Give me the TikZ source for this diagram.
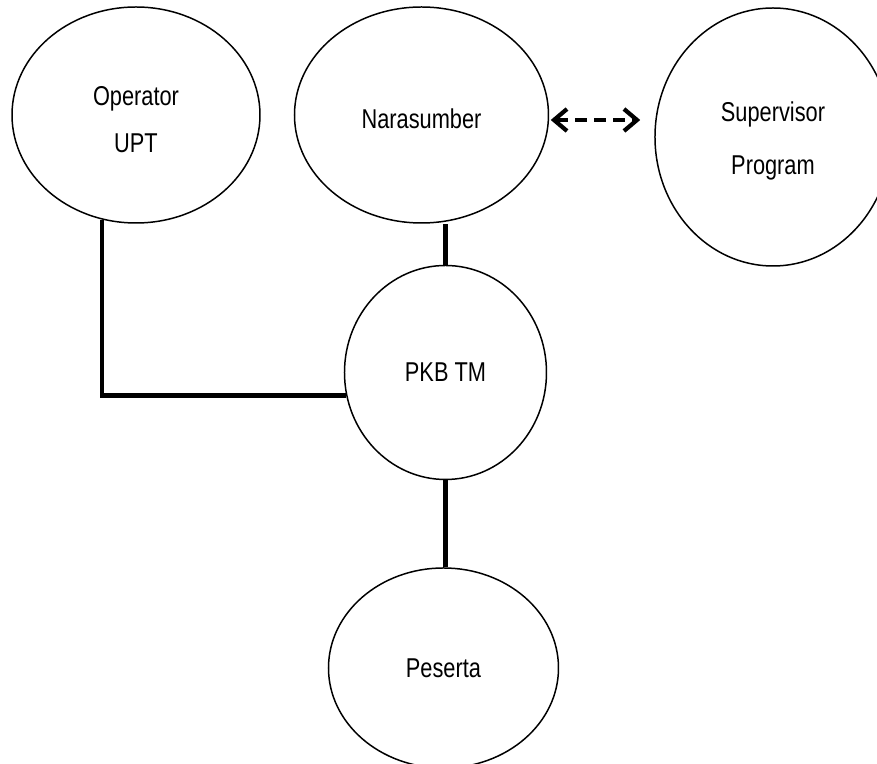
\documentclass[tikz,border=0pt]{standalone}
\usepackage{fontspec}
\setmainfont{Liberation Sans}[FakeStretch=0.8]
\usetikzlibrary{shapes.geometric, arrows.meta, positioning, calc}

\begin{document}
\begin{tikzpicture}[
        actor/.style={ellipse, draw=black, line width=0.85pt, inner sep=0pt, align=center, font=\fontsize{15.5}{27}\selectfont},
        link/.style={draw=black, line width=2.6pt},
        dashlink/.style={draw=black, line width=2.4pt, dash pattern=on 0.24cm off 0.14cm, {Straight Barb[length=0.26cm, width=0.44cm]}-{Straight Barb[length=0.26cm, width=0.44cm]}}
    ]
        \useasboundingbox (0,0) rectangle (17.54,-15.28);

        \node[actor, minimum width=4.96cm, minimum height=4.32cm] (op) at (2.72,-2.30) {\\[-11pt]Operator\\UPT};
        \node[actor, minimum width=5.08cm, minimum height=4.32cm, right=0.66cm of op] (nara) {\\[-11pt]Narasumber};
        \node[actor, minimum width=4.72cm, minimum height=5.16cm, right=2.1cm of nara, yshift=-0.44cm] (sup) {\\[-11pt]Supervisor\\[3pt]Program};
        \node[actor, minimum width=4.04cm, minimum height=4.28cm, below=0.82cm of nara, xshift=0.48cm] (pkb) {PKB TM};
        \node[actor, minimum width=4.6cm, minimum height=4.0cm, below=1.74cm of pkb, xshift=-0.04cm] (pes) {Peserta};

        % connectors
        \draw[link] (op.-108) |- (pkb.-167.5);
        \draw[link] (pkb.north) -- (pkb.north |- nara.south);
        \draw[link] (pkb.south) -- (pkb.south |- pes.north);
        \draw[dashlink] ($(nara.east)+(0.03,-0.1)$) -- ($(sup.west)+(-0.28,0.34)$);
    \end{tikzpicture}
\end{document}
